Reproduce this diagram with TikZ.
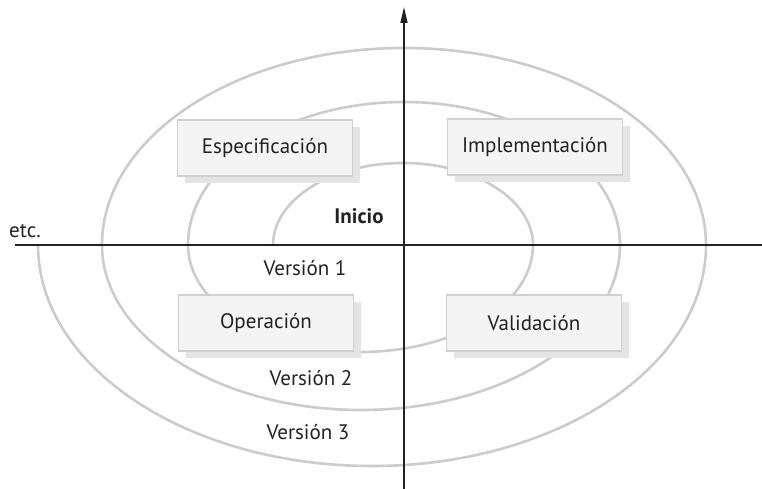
\documentclass[tikz,border=0pt]{standalone}
\usepackage{fontspec}
\setmainfont{PT Sans}
\usetikzlibrary{arrows.meta}
\definecolor{spiral}{HTML}{CCCCCC}
\definecolor{boxfill}{HTML}{F4F4F4}
\definecolor{boxline}{HTML}{D0D0D0}
\definecolor{shadowc}{HTML}{E4E4E4}
\definecolor{ink}{HTML}{222222}
\tikzset{
  phasebox/.style={draw=boxline, line width=1.6pt, fill=boxfill, minimum width=175pt, minimum height=56pt, inner sep=0pt, font=\fontsize{21}{24}\selectfont, text=ink},
  phaseshadow/.style={fill=shadowc, minimum width=175pt, minimum height=56pt, inner sep=0pt},
  lbl/.style={font=\fontsize{21}{24}\selectfont, text=ink, inner sep=0pt},
  spiralline/.style={draw=spiral, line width=2.6pt},
  axisline/.style={draw=ink, line width=1.3pt}
}
\begin{document}
\begin{tikzpicture}[x=1pt,y=1pt]
\useasboundingbox (0,0) rectangle (762,489);
% spiral
\draw[spiralline] (273,244)
  arc[start angle=180, end angle=0, x radius=130, y radius=82]
  arc[start angle=0, end angle=-180, x radius=172.5, y radius=107]
  arc[start angle=180, end angle=0, x radius=216, y radius=143]
  arc[start angle=0, end angle=-180, x radius=259, y radius=165]
  arc[start angle=180, end angle=0, x radius=302, y radius=197]
  arc[start angle=0, end angle=-180, x radius=334, y radius=221];
% axes
\coordinate (vbot) at (404,0);
\coordinate (vtop) at (404,482);
\coordinate (hleft) at (15,244);
\coordinate (hright) at (762,244);
\draw[axisline, -{Triangle[length=16pt,width=7pt]}] (vbot) -- (vtop);
\draw[axisline] (hleft) -- (hright);
% boxes with shadows
\node[phaseshadow] (s1) at (272,334) {};
\node[phasebox] (esp) at (265,341) {Especificación};
\node[phaseshadow] (s2) at (542,335) {};
\node[phasebox] (imp) at (535,342) {Implementación};
\node[phaseshadow] (s3) at (273,159) {};
\node[phasebox] (ope) at (266,166) {Operación};
\node[phaseshadow] (s4) at (541,159) {};
\node[phasebox] (val) at (534,166) {Validación};
% labels
\node[lbl, font=\fontsize{21}{24}\selectfont\bfseries] (ini) at (359,273) {Inicio};
\node[lbl] (v1) at (305,221) {Versión 1};
\node[lbl] (v2) at (311,111) {Versión 2};
\node[lbl] (v3) at (308,57) {Versión 3};
\node[lbl] (etc) at (25,258) {etc.};
\end{tikzpicture}
\end{document}
